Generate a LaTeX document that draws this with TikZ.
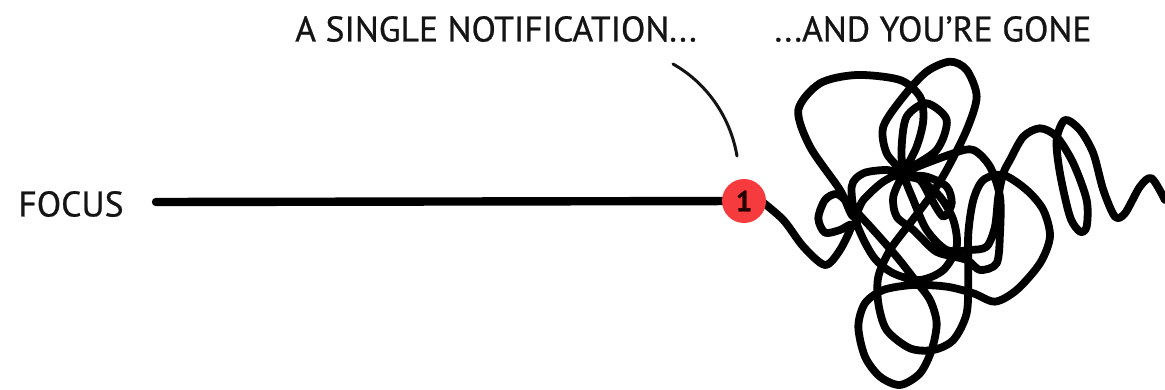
\documentclass[tikz,border=0pt]{standalone}
\usepackage{fontspec}
\setmainfont[RawFeature={embolden=0.7}]{PT Sans}
\definecolor{badgered}{HTML}{F53B3D}
\definecolor{ink}{HTML}{141414}
\tikzset{
  lbl/.style={inner sep=0pt,anchor=center,text=ink,font=\fontsize{35.6}{38}\selectfont},
  thick line/.style={draw=black,line width=8.4pt,line cap=round,line join=round},
  callout/.style={draw=ink,line width=3pt,line cap=round},
}
\begin{document}
\begin{tikzpicture}[x=1pt,y=-1pt]
\useasboundingbox (0,0) rectangle (1165,389);
\fill[white] (0,0) rectangle (1165,389);
\node[lbl] (focus) at (71,204) {FOCUS};
\node[lbl] (single) at (496,29) {A SINGLE NOTIFICATION...};
\node[lbl] (gone) at (933,29) {...AND YOU'RE GONE};
\coordinate (start) at (156,202);
\coordinate (calloutA) at (673,64);
\coordinate (calloutB) at (737,156);
\coordinate (badgepos) at (744,201);
\draw[thick line] (start) -- (badgepos);
\draw[callout] (calloutA) .. controls (705,82) and (730,115) .. (calloutB);
\begin{scope}[shift={(740,40)},x=0.3333pt,y=-0.3333pt]
\draw[thick line,line width=7.8pt] plot[smooth,tension=0.5] coordinates {
(60,480)(130,540)(190,620)(255,675)(300,630)(335,555)(300,570)(255,578)(235,535)(255,480)(290,462)(325,490)
(400,570)(470,650)(525,720)(570,780)(590,850)(575,930)(540,1000)(480,1035)(420,1010)(375,950)(355,860)(375,790)
(430,750)(520,735)(620,740)(700,760)(765,785)(830,750)(900,670)(930,590)(910,510)(860,450)(790,405)(730,420)
(700,480)(685,580)(685,700)(680,820)(640,900)(580,930)(510,925)(440,870)(415,790)(415,710)(450,630)(510,550)
(570,470)(620,390)(680,270)(710,170)(680,90)(630,65)(560,95)(490,170)(430,260)(440,340)(490,400)
(440,390)(370,400)(335,440)(350,550)(400,650)(460,700)(540,720)(610,690)(650,620)(640,540)(600,470)(540,420)(490,400)
(430,425)(370,480)(340,530)(300,450)(210,320)(175,210)(240,130)(350,105)(480,120)(540,170)(550,240)(530,320)(490,400)
(460,470)(470,530)(520,570)(570,620)(600,640)(680,660)(720,690)(770,670)(780,580)(780,470)(750,380)(700,330)(640,340)(490,400)
(560,410)(620,440)(635,490)(610,530)(570,470)(540,420)(490,400)
(590,330)(620,240)(560,190)(500,230)(485,320)(490,400)(520,480)(560,570)(620,630)(690,630)(740,620)(765,560)(775,470)(790,400)
(810,360)(850,290)(900,265)(950,290)(1000,370)(1040,480)(1040,560)(1020,575)(990,530)(960,400)(950,300)(975,240)(1020,270)(1060,340)(1090,450)(1125,530)(1155,520)(1200,440)(1235,415)(1275,480)
};
\end{scope}
\node[circle,fill=badgered,minimum size=44pt,inner sep=0pt,font=\fontsize{29}{30}\selectfont\bfseries,text=black!85!red] (badge) at (badgepos) {1};
\end{tikzpicture}
\end{document}
